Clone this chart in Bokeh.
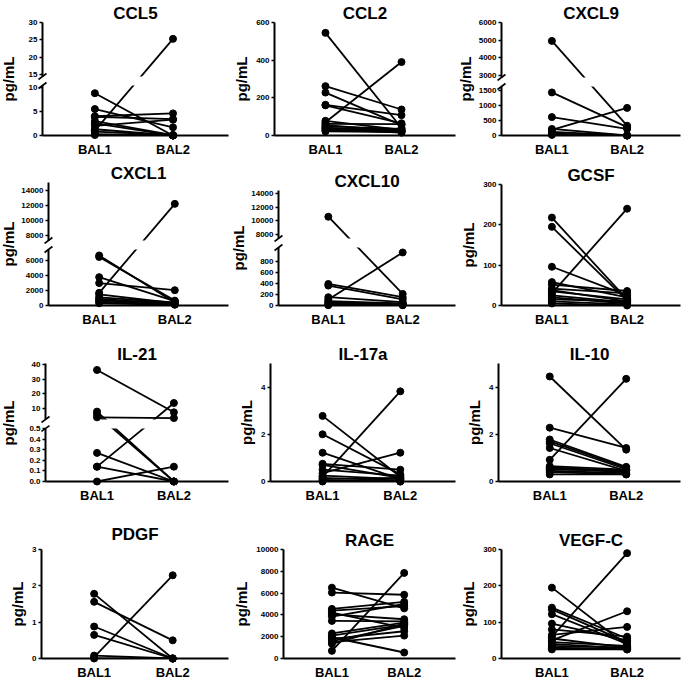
import math
from bokeh.plotting import figure
from bokeh.layouts import row, column
from bokeh.models import Range1d, FixedTicker, NumeralTickFormatter, Label
from bokeh.embed import file_html
from bokeh.resources import INLINE

GROUPS = ["BAL1", "BAL2"]
UNIT = "pg/mL"

CCL5_BAL1 = [8.8, 5.5, 4.0, 3.9, 3.0, 2.5, 2.0, 1.3, 0.8, 1.0, 0.3, 0.1]
CCL5_BAL2 = [0.0, 1.7, 4.6, 3.4, 0.1, 0.0, 3.3, 0.0, 0.1, 25.3, 0.0, 0.0]

CCL2_BAL1 = [545, 262, 228, 163, 160, 78, 70, 62, 55, 48, 42, 38, 32, 28, 22]
CCL2_BAL2 = [40, 138, 55, 108, 65, 30, 390, 60, 25, 35, 20, 30, 15, 25, 18]

CXCL9_BAL1 = [4950, 1450, 620, 220, 190, 120, 60, 20]
CXCL9_BAL2 = [330, 280, 220, 0, 930, 0, 0, 0]

CXCL1_BAL1 = [6700, 6500, 3800, 3000, 1700, 1500, 1100, 900, 700, 500, 300]
CXCL1_BAL2 = [400, 650, 600, 2050, 12200, 300, 400, 200, 300, 150, 100]

CXCL10_BAL1 = [10600, 390, 360, 150, 110, 80, 60, 40, 20, 5]
CXCL10_BAL2 = [210, 150, 110, 60, 960, 40, 30, 20, 10, 5]

GCSF_BAL1 = [218, 195, 96, 58, 52, 42, 38, 35, 30, 25, 20, 15, 10, 5]
GCSF_BAL2 = [15, 12, 25, 20, 36, 30, 10, 15, 240, 8, 5, 10, 3, 0]

IL21_BAL1 = [36.5, 7.5, 5.5, 3.5, 0.27, 0.14, 0.14, 0.0]
IL21_BAL2 = [7.0, 0.0, 0.0, 3.0, 0.0, 13.5, 0.0, 0.14]

IL17A_BAL1 = [2.78, 2.0, 1.22, 0.75, 0.7, 0.5, 0.35, 0.25, 0.2, 0.15, 0.1, 0.05, 0.0]
IL17A_BAL2 = [0.2, 0.3, 0.1, 0.5, 0.15, 0.25, 1.22, 0.1, 3.82, 0.05, 0.15, 0.0, 0.0]

IL10_BAL1 = [4.45, 2.28, 1.78, 1.70, 1.62, 1.42, 0.92, 0.65, 0.60, 0.55, 0.50, 0.45, 0.40, 0.30]
IL10_BAL2 = [1.35, 1.42, 0.62, 0.58, 0.52, 0.45, 4.35, 0.50, 0.45, 0.40, 0.48, 0.35, 0.30, 0.30]

PDGF_BAL1 = [1.78, 1.56, 0.88, 0.65, 0.08, 0.04, 0.0]
PDGF_BAL2 = [0.0, 0.5, 0.0, 0.0, 0.0, 2.29, 0.0]

RAGE_BAL1 = [6500, 6050, 4550, 4400, 4200, 4050, 3850, 3450, 2300, 2100, 1950, 1800, 1600, 1500, 1350, 700]
RAGE_BAL2 = [4600, 5850, 5200, 4800, 2800, 3600, 5000, 3400, 3300, 3100, 550, 2500, 3000, 2100, 3200, 7850]

VEGFC_BAL1 = [195, 140, 135, 122, 96, 80, 65, 60, 55, 50, 45, 40, 35, 30, 28, 25]
VEGFC_BAL2 = [35, 55, 45, 40, 50, 60, 87, 290, 30, 130, 35, 28, 30, 25, 28, 25]

FONT = "Liberation Sans"
XPOS = [i + 1 for i in range(len(GROUPS))]
XR = (0.33, 2.71)
LABW = 18
GAP_T, GAP_B = 4, 5
COLW = [230, 227, 227]
MBR = [2, 2, 4]


def style_y(p, ticks, fmt=None):
    ya = p.yaxis[0]
    ya.ticker = FixedTicker(ticks=ticks)
    ya.axis_line_width = 2
    ya.axis_line_color = "black"
    ya.major_tick_out = 3
    ya.major_tick_in = 0
    ya.major_tick_line_width = 1.5
    ya.major_tick_line_color = "black"
    ya.minor_tick_line_color = None
    ya.major_label_text_font = FONT
    ya.major_label_text_font_size = "8px"
    ya.major_label_text_font_style = "bold"
    ya.major_label_text_color = "black"
    ya.major_label_standoff = 2
    if fmt:
        ya.formatter = NumeralTickFormatter(format=fmt)


def base_fig(w, h, yr, ticks, title, xaxis, mbl, mbr, mbt, mbb, fmt=None, tstand=0):
    p = figure(width=w, height=h, x_range=Range1d(*XR), y_range=Range1d(*yr),
               x_axis_location="below" if xaxis else None,
               title=title, toolbar_location=None, output_backend="svg",
               min_border_left=mbl, min_border_right=mbr,
               min_border_top=mbt, min_border_bottom=mbb)
    p.outline_line_color = None
    p.grid.grid_line_color = None
    p.background_fill_color = "white"
    p.border_fill_color = "white"
    if title:
        p.title.text_font = FONT
        p.title.text_font_size = "17px"
        p.title.text_font_style = "bold"
        p.title.text_color = "black"
        p.title.align = "center"
        p.title.standoff = tstand
    style_y(p, ticks, fmt)
    if xaxis:
        xa = p.xaxis[0]
        xa.ticker = FixedTicker(ticks=XPOS)
        xa.major_label_overrides = {x: g for x, g in zip(XPOS, GROUPS)}
        xa.axis_line_width = 2
        xa.axis_line_color = "black"
        xa.major_tick_out = 0
        xa.major_tick_in = 0
        xa.major_tick_line_color = None
        xa.minor_tick_line_color = None
        xa.major_label_text_font = FONT
        xa.major_label_text_font_size = "13px"
        xa.major_label_text_font_style = "bold"
        xa.major_label_text_color = "black"
        xa.major_label_standoff = 6
    return p


def draw(p, b1, b2, yr=None, l1=None, l2=None):
    n = len(b1)
    p.segment(x0=[XPOS[0]] * n, y0=l1 if l1 is not None else b1,
              x1=[XPOS[1]] * n, y1=l2 if l2 is not None else b2,
              line_color="black", line_width=1.8)
    xs, ys = [], []
    for x, vals in zip(XPOS, (b1, b2)):
        for v in vals:
            if yr is None or (yr[0] <= v <= yr[1]):
                xs.append(x)
                ys.append(v)
    p.scatter(xs, ys, size=7, marker="circle", fill_color="black",
              line_color="black", level="overlay")


def normal(col, h, name, b1, b2, yr, ticks, mbl, mbt, mbb, tstand=0):
    p = base_fig(COLW[col], h, yr, ticks, name, True, mbl, MBR[col], mbt, mbb, tstand=tstand)
    ya = p.yaxis[0]
    ya.axis_label = UNIT
    ya.axis_label_text_font = FONT
    ya.axis_label_text_font_size = "15px"
    ya.axis_label_text_font_style = "bold"
    ya.axis_label_text_color = "black"
    ya.axis_label_standoff = 3
    draw(p, b1, b2)
    return p


def break_mark(p, y, fw, fh, yspan):
    dx = 4 * (XR[1] - XR[0]) / fw
    dy = 3 * yspan / fh
    x0 = XR[0]
    p.segment(x0=[x0 - dx], y0=[y - dy], x1=[x0 + dx], y1=[y + dy],
              line_color="black", line_width=1.6, level="overlay")


def broken(col, h, name, b1, b2, lo, lo_t, hi, hi_t, mbl, mbt, ft, mbb, lo_fmt=None):
    wf = COLW[col] - LABW
    ht = mbt + ft + GAP_T
    hb = h - ht
    fb = hb - GAP_B - mbb
    fw = wf - mbl - MBR[col]
    gap = GAP_T + GAP_B

    # straight line in the drawn (broken) space, as in the original figure
    def disp(v):
        if v <= lo[1]:
            return (v - lo[0]) / (lo[1] - lo[0]) * fb
        return fb + gap + (v - hi[0]) / (hi[1] - hi[0]) * ft

    def to_lo(d):
        return lo[0] + d * (lo[1] - lo[0]) / fb

    def to_hi(d):
        return hi[0] + (d - fb - gap) * (hi[1] - hi[0]) / ft

    top = base_fig(wf, ht, hi, hi_t, name, False, mbl, MBR[col], mbt, GAP_T)
    bot = base_fig(wf, hb, lo, lo_t, None, True, mbl, MBR[col], GAP_B, mbb, fmt=lo_fmt)
    draw(top, b1, b2, hi, [to_hi(disp(v)) for v in b1], [to_hi(disp(v)) for v in b2])
    draw(bot, b1, b2, lo, [to_lo(disp(v)) for v in b1], [to_lo(disp(v)) for v in b2])
    break_mark(top, hi[0], fw, ft, hi[1] - hi[0])
    break_mark(bot, lo[1], fw, fb, lo[1] - lo[0])
    lab = figure(width=LABW, height=h, x_range=Range1d(0, LABW), y_range=Range1d(0, h),
                 x_axis_type=None, y_axis_type=None, title=None,
                 toolbar_location=None, output_backend="svg", min_border=0)
    lab.outline_line_color = None
    yc = h - (mbt + (h - mbb)) / 2
    lab.add_layout(Label(x=8, y=yc, text=UNIT, angle=math.pi / 2,
                         text_align="center", text_baseline="middle",
                         text_font=FONT, text_font_size="15px",
                         text_font_style="bold", text_color="black"))
    return row(lab, column(top, bot))


r1 = row(
    broken(0, 160, "CCL5", CCL5_BAL1, CCL5_BAL2, (0, 10.4), [0, 5, 10], (14.5, 30), [15, 20, 25, 30],
           mbl=24, mbt=22, ft=54, mbb=25),
    normal(1, 160, "CCL2", CCL2_BAL1, CCL2_BAL2, (0, 600), [0, 200, 400, 600], mbl=44, mbt=22, mbb=25),
    broken(2, 160, "CXCL9", CXCL9_BAL1, CXCL9_BAL2, (0, 1650), [0, 500, 1000, 1500],
           (2860, 6000), [3000, 4000, 5000, 6000], mbl=24, mbt=22, ft=55, mbb=25),
)
r2 = row(
    broken(0, 170, "CXCL1", CXCL1_BAL1, CXCL1_BAL2, (0, 7500), [0, 2000, 4000, 6000],
           (7400, 15000), [8000, 10000, 12000, 14000], mbl=28, mbt=22, ft=58, mbb=25),
    broken(1, 170, "CXCL10", CXCL10_BAL1, CXCL10_BAL2, (0, 1050), [0, 200, 400, 600, 800],
           (7450, 14400), [8000, 10000, 12000, 14000], mbl=28, mbt=30, ft=48, mbb=25),
    normal(2, 170, "GCSF", GCSF_BAL1, GCSF_BAL2, (0, 300), [0, 100, 200, 300], mbl=36, mbt=24, mbb=25),
)
r3 = row(
    broken(0, 175, "IL-21", IL21_BAL1, IL21_BAL2, (0, 0.5), [0, 0.1, 0.2, 0.3, 0.4, 0.5],
           (2, 41), [10, 20, 30, 40], mbl=27, mbt=33, ft=56, mbb=23, lo_fmt="0.0"),
    normal(1, 175, "IL-17a", IL17A_BAL1, IL17A_BAL2, (0, 5), [0, 2, 4], mbl=40, mbt=30, mbb=23),
    normal(2, 175, "IL-10", IL10_BAL1, IL10_BAL2, (0, 5), [0, 2, 4], mbl=41, mbt=33, mbb=23),
)
r4 = row(
    normal(0, 177, "PDGF", PDGF_BAL1, PDGF_BAL2, (0, 3), [0, 1, 2, 3], mbl=41, mbt=44, mbb=22, tstand=12),
    normal(1, 177, "RAGE", RAGE_BAL1, RAGE_BAL2, (0, 10000), [0, 2000, 4000, 6000, 8000, 10000],
           mbl=44, mbt=36, mbb=22),
    normal(2, 177, "VEGF-C", VEGFC_BAL1, VEGFC_BAL2, (0, 300), [0, 100, 200, 300], mbl=39, mbt=33, mbb=22),
)

layout = column(r1, r2, r3, r4)
open("out.html", "w").write(file_html(layout, INLINE))
